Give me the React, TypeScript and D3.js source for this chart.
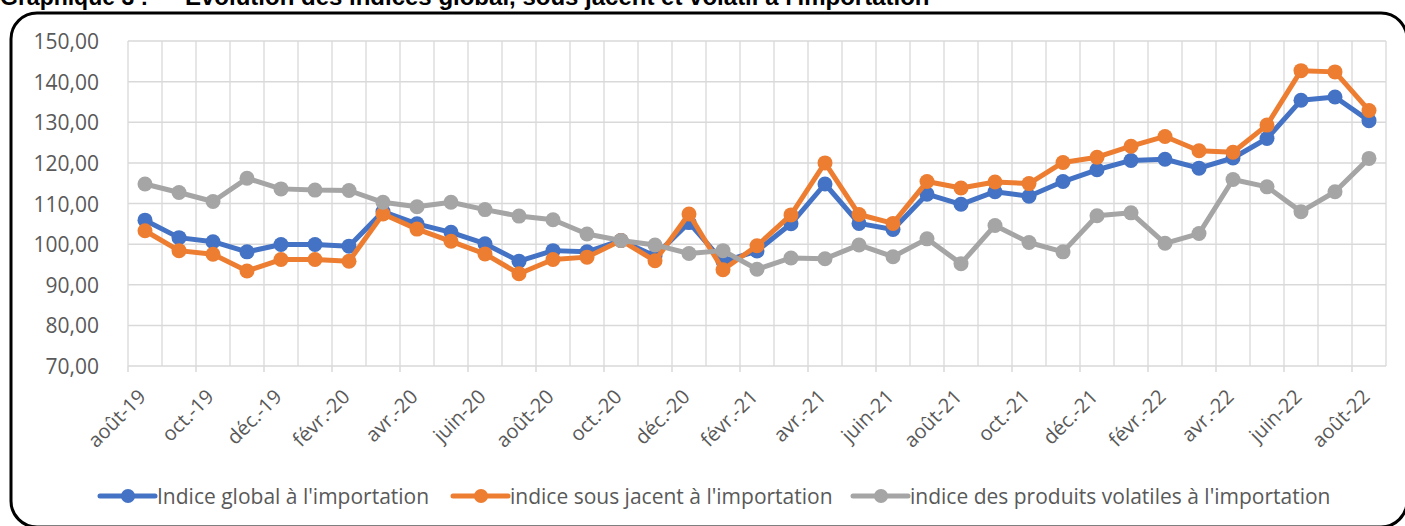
import * as d3 from "d3";

const MONTHS = [
  "août-19", "sept.-19", "oct.-19", "nov.-19", "déc.-19", "janv.-20", "févr.-20", "mars-20",
  "avr.-20", "mai-20", "juin-20", "juil.-20", "août-20", "sept.-20", "oct.-20", "nov.-20",
  "déc.-20", "janv.-21", "févr.-21", "mars-21", "avr.-21", "mai-21", "juin-21", "juil.-21",
  "août-21", "sept.-21", "oct.-21", "nov.-21", "déc.-21", "janv.-22", "févr.-22", "mars-22",
  "avr.-22", "mai-22", "juin-22", "juil.-22", "août-22",
];

const GLOBAL = [
  105.9, 101.6, 100.6, 98.1, 99.9, 99.9, 99.5, 108.0, 105.0, 102.9, 100.1, 95.8, 98.4,
  98.1, 100.9, 97.1, 105.3, 95.7, 98.3, 105.0, 114.8, 105.1, 103.6, 112.3, 109.8, 112.9,
  111.8, 115.4, 118.3, 120.6, 120.9, 118.7, 121.2, 126.0, 135.4, 136.2, 130.4,
];

const SOUS_JACENT = [
  103.3, 98.4, 97.5, 93.4, 96.2, 96.2, 95.8, 107.4, 103.7, 100.7, 97.6, 92.7, 96.2,
  96.8, 100.9, 95.9, 107.4, 93.7, 99.6, 107.2, 120.0, 107.3, 105.1, 115.4, 113.8, 115.3,
  114.9, 120.1, 121.4, 124.1, 126.5, 123.0, 122.6, 129.3, 142.7, 142.4, 132.9,
];

const VOLATILES = [
  114.8, 112.7, 110.5, 116.2, 113.6, 113.3, 113.2, 110.3, 109.2, 110.3, 108.5, 106.9, 106.0,
  102.5, 100.9, 99.8, 97.7, 98.4, 93.8, 96.6, 96.4, 99.8, 96.9, 101.3, 95.2, 104.6,
  100.4, 98.1, 107.0, 107.7, 100.2, 102.6, 115.9, 114.1, 108.0, 112.9, 121.1,
];

const Y_TICKS = [70, 80, 90, 100, 110, 120, 130, 140, 150];

const SERIES = [
  { name: "Indice global à l'importation", values: GLOBAL, color: "#4472C4" },
  { name: "indice sous jacent à l'importation", values: SOUS_JACENT, color: "#ED7D31" },
  { name: "indice des produits volatiles à l'importation", values: VOLATILES, color: "#A5A5A5" },
];

const LEGEND_X = [100, 453, 853];

const W = 1405;
const H = 526;
const FONT = "'Open Sans', Calibri, sans-serif";
const TITLE_FONT = "'Liberation Sans', Arial, sans-serif";
const TXT = "#595959";
const GRID = "#D9D9D9";

export default function App() {
  const left = 128;
  const right = 1386;
  const x = d3.scaleBand<number>().domain(d3.range(MONTHS.length)).range([left, right]);
  const y = d3.scaleLinear().domain([70, 150]).range([366, 41]);
  const cx = (i: number) => (x(i) ?? 0) + x.bandwidth() / 2;

  const line = d3
    .line<number>()
    .x((_, i) => cx(i))
    .y((d) => y(d));

  // category boundaries: vertical gridlines, tick marks every second one
  const bounds = d3.range(MONTHS.length + 1).map((i) => left + i * x.bandwidth());

  return (
    <svg width={W} height={H} style={{ position: "absolute", left: 0, top: 0, background: "#fff" }}>
      <text x={0} y={5} fontFamily={TITLE_FONT} fontWeight="bold" fontSize={23}>
        Graphique 3 :
      </text>
      <text x={185} y={5} fontFamily={TITLE_FONT} fontWeight="bold" fontSize={24}>
        Evolution des indices global, sous jacent et volatil à l'importation
      </text>
      <rect x={11} y={13} width={1396} height={514} rx={26} fill="none" stroke="#000" strokeWidth={3} />

      {bounds.map((bx, i) => (
        <line key={"v" + i} x1={bx} x2={bx} y1={y(150)} y2={y(70)} stroke={GRID} strokeWidth={1.3} />
      ))}
      {Y_TICKS.map((t) => (
        <g key={"y" + t}>
          <line x1={left} x2={right} y1={y(t)} y2={y(t)} stroke={GRID} strokeWidth={1.5} />
          <text
            x={99}
            y={y(t)}
            textAnchor="end"
            dominantBaseline="central"
            fontFamily={FONT}
            fontSize={21}
            fill={TXT}
          >
            {t.toFixed(2).replace(".", ",")}
          </text>
        </g>
      ))}
      {bounds
        .filter((_, i) => i % 2 === 0)
        .map((bx, i) => (
          <line key={"t" + i} x1={bx} x2={bx} y1={y(70)} y2={y(70) + 6} stroke={GRID} strokeWidth={1.5} />
        ))}
      {MONTHS.map((m, i) =>
        i % 2 === 0 ? (
          <text
            key={"x" + i}
            transform={`translate(${cx(i) + 2},${y(70) + 32}) rotate(-45)`}
            textAnchor="end"
            fontFamily={FONT}
            fontSize={20}
            fill={TXT}
          >
            {m}
          </text>
        ) : null,
      )}

      {SERIES.map((s) => (
        <g key={s.name}>
          <path d={line(s.values) ?? ""} fill="none" stroke={s.color} strokeWidth={5} strokeLinejoin="round" />
          {s.values.map((v, i) => (
            <circle key={i} cx={cx(i)} cy={y(v)} r={7.5} fill={s.color} />
          ))}
        </g>
      ))}

      {SERIES.map((s, k) => (
        <g key={"l" + k} transform={`translate(${LEGEND_X[k]},496)`}>
          <line x1={0} x2={55} y1={0} y2={0} stroke={s.color} strokeWidth={5} strokeLinecap="round" />
          <circle cx={28} cy={0} r={7} fill={s.color} />
          <text x={57} y={0} dominantBaseline="central" fontFamily={FONT} fontSize={21} fill={TXT}>
            {s.name}
          </text>
        </g>
      ))}
    </svg>
  );
}
